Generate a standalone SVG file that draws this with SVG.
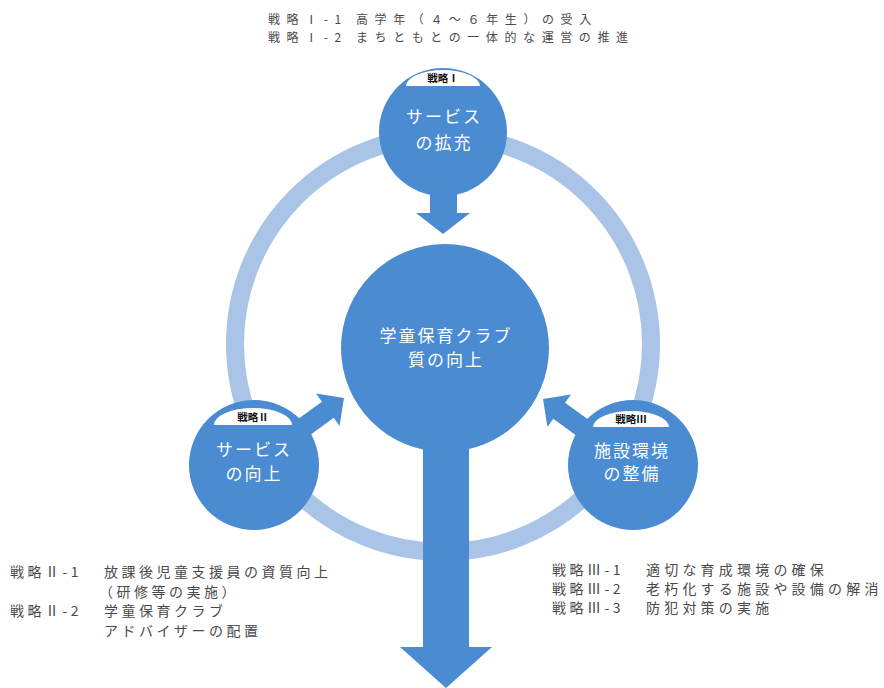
<svg xmlns="http://www.w3.org/2000/svg" width="884" height="688" viewBox="0 0 884 688">
<style>
.bl{fill:#4a8bd2}
.ring{fill:none;stroke:#a9c4e6;stroke-width:18}
.dome{fill:#fff}
.t{font-family:"Noto Sans CJK JP","Noto Sans",sans-serif}
.wt{fill:#fff;font-size:17px;letter-spacing:2px;text-anchor:middle}
.lab{fill:#111;font-size:10.5px;font-weight:bold;text-anchor:middle}
.note{fill:#4a4a4a;font-size:14px;letter-spacing:3.5px}
.note3{letter-spacing:4.2px}
.top{fill:#4a4a4a;font-size:12px;letter-spacing:6.6px}
</style>
<rect width="884" height="688" fill="#fff"/>
<g id="cycle"><circle class="ring" cx="443" cy="344" r="208"/></g>
<g id="connectors">
<polygon class="bl" points="430,180 457,180 457,213 470,213 443,234 416,213 430,213"/>
<polygon class="bl" points="423,420 469,420 469,647 492,647 446,688 400,647 423,647"/>
<g transform="translate(344,398) rotate(-36)"><polygon class="bl" points="0,0 -20,-20 -20,-10 -58,-10 -58,10 -20,10 -20,20"/></g>
<g transform="translate(543,399) rotate(-144)"><polygon class="bl" points="0,0 -20,-20 -20,-10 -58,-10 -58,10 -20,10 -20,20"/></g>
</g>
<g id="center">
<circle class="bl" cx="445" cy="348" r="104"/>
<text class="t wt" x="446" y="342">学童保育クラブ</text>
<text class="t wt" x="446" y="366">質の向上</text>
</g>
<g id="s1">
<circle class="bl" cx="443" cy="132" r="64"/>
<path class="dome" d="M406,86 A37,16 0 0 1 480,86 Z"/>
<text class="t lab" x="443" y="82">戦略Ⅰ</text>
<text class="t wt" x="444" y="123">サービス</text>
<text class="t wt" x="444" y="149">の拡充</text>
</g>
<g id="s2">
<circle class="bl" cx="254" cy="465" r="65"/>
<path class="dome" d="M214,425 A39,17 0 0 1 292,425 Z"/>
<text class="t lab" x="253" y="421">戦略Ⅱ</text>
<text class="t wt" x="254" y="456">サービス</text>
<text class="t wt" x="254" y="480">の向上</text>
</g>
<g id="s3">
<circle class="bl" cx="633" cy="465" r="65"/>
<path class="dome" d="M593,427 A38,16 0 0 1 669,427 Z"/>
<text class="t lab" x="631" y="423">戦略Ⅲ</text>
<text class="t wt" x="632" y="457">施設環境</text>
<text class="t wt" x="632" y="480">の整備</text>
</g>
<g id="notes1">
<text class="t top" y="24"><tspan x="268">戦略Ⅰ-1</tspan><tspan x="356">高学年（４～６年生）の受入</tspan></text>
<text class="t top" y="42"><tspan x="268">戦略Ⅰ-2</tspan><tspan x="356">まちともとの一体的な運営の推進</tspan></text>
</g>
<g id="notes2">
<text class="t note" y="577"><tspan x="10">戦略Ⅱ-1</tspan><tspan x="104">放課後児童支援員の資質向上</tspan></text>
<text class="t note" x="99" y="597">（研修等の実施）</text>
<text class="t note" y="616"><tspan x="10">戦略Ⅱ-2</tspan><tspan x="104">学童保育クラブ</tspan></text>
<text class="t note" x="104" y="636">アドバイザーの配置</text>
</g>
<g id="notes3">
<text class="t note" y="575"><tspan x="552">戦略Ⅲ-1</tspan><tspan class="note3" x="646">適切な育成環境の確保</tspan></text>
<text class="t note" y="594"><tspan x="552">戦略Ⅲ-2</tspan><tspan class="note3" x="646">老朽化する施設や設備の解消</tspan></text>
<text class="t note" y="613"><tspan x="552">戦略Ⅲ-3</tspan><tspan class="note3" x="646">防犯対策の実施</tspan></text>
</g>
</svg>
